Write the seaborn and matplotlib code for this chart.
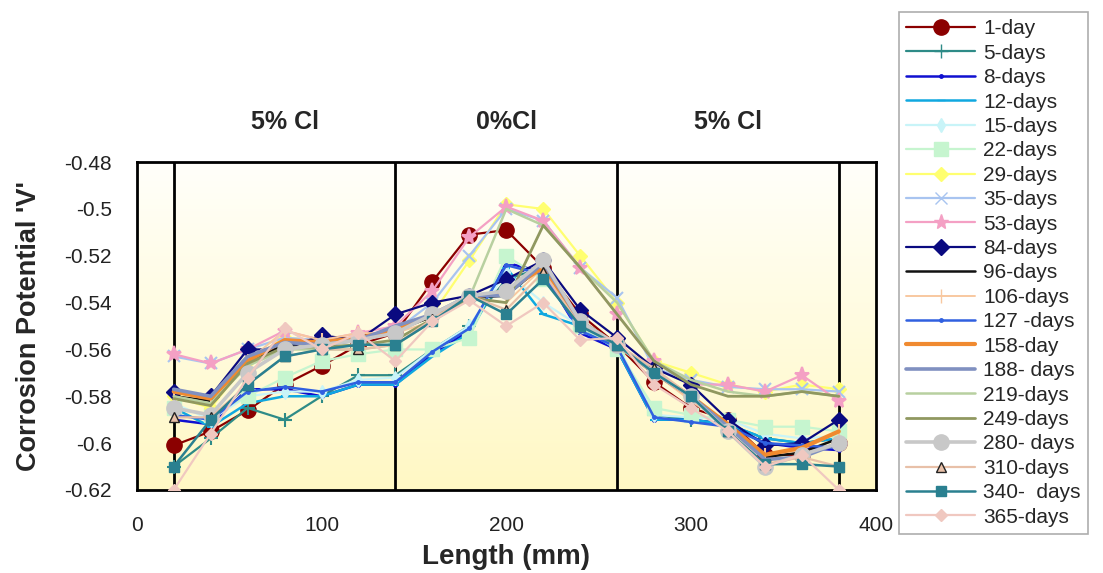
import numpy as np
import pandas as pd
import matplotlib
matplotlib.use('Agg')
import matplotlib.pyplot as plt
import seaborn as sns

# 1. Data
length = [20, 40, 60, 80, 100, 120, 140, 160, 180, 200, 220, 240, 260, 280, 300, 320, 340, 360, 380]

labels = ['1-day', '5-days', '8-days', '12-days', '15-days', '22-days', '29-days', '35-days',
          '53-days', '84-days', '96-days', '106-days', '127 -days', '158-day', '188- days',
          '219-days', '249-days', '280- days', '310-days', '340-  days', '365-days']

day1 = [-0.601, -0.595, -0.586, -0.575, -0.567, -0.558, -0.553, -0.531, -0.511, -0.509, -0.525, -0.545, -0.558, -0.574, -0.585, -0.590, -0.605, -0.605, -0.600]
day5 = [-0.610, -0.598, -0.585, -0.590, -0.580, -0.571, -0.571, -0.560, -0.550, -0.530, -0.525, -0.548, -0.560, -0.588, -0.590, -0.592, -0.598, -0.600, -0.598]
day8 = [-0.590, -0.592, -0.577, -0.577, -0.580, -0.575, -0.575, -0.562, -0.552, -0.523, -0.527, -0.553, -0.560, -0.590, -0.590, -0.592, -0.600, -0.602, -0.603]
day12 = [-0.585, -0.593, -0.583, -0.580, -0.580, -0.575, -0.575, -0.563, -0.553, -0.525, -0.545, -0.550, -0.560, -0.590, -0.590, -0.592, -0.598, -0.600, -0.598]
day15 = [-0.583, -0.590, -0.580, -0.578, -0.578, -0.573, -0.572, -0.560, -0.550, -0.527, -0.540, -0.550, -0.558, -0.588, -0.589, -0.590, -0.596, -0.598, -0.597]
day22 = [-0.585, -0.588, -0.580, -0.572, -0.565, -0.562, -0.560, -0.560, -0.555, -0.520, -0.530, -0.550, -0.560, -0.585, -0.588, -0.590, -0.593, -0.593, -0.595]
day29 = [-0.580, -0.585, -0.565, -0.555, -0.556, -0.556, -0.553, -0.545, -0.522, -0.498, -0.500, -0.520, -0.540, -0.565, -0.570, -0.575, -0.578, -0.575, -0.577]
day35 = [-0.563, -0.566, -0.560, -0.555, -0.556, -0.555, -0.552, -0.540, -0.520, -0.500, -0.505, -0.525, -0.538, -0.568, -0.573, -0.576, -0.577, -0.577, -0.578]
day53 = [-0.562, -0.566, -0.560, -0.552, -0.556, -0.553, -0.550, -0.535, -0.512, -0.499, -0.505, -0.525, -0.545, -0.565, -0.575, -0.575, -0.578, -0.571, -0.582]
day84 = [-0.578, -0.580, -0.560, -0.560, -0.554, -0.556, -0.545, -0.540, -0.537, -0.530, -0.522, -0.543, -0.555, -0.568, -0.575, -0.590, -0.601, -0.600, -0.590]
day96 = [-0.580, -0.582, -0.565, -0.558, -0.557, -0.556, -0.552, -0.546, -0.538, -0.537, -0.524, -0.548, -0.558, -0.570, -0.580, -0.593, -0.606, -0.604, -0.598]
day106 = [-0.580, -0.583, -0.565, -0.552, -0.556, -0.553, -0.553, -0.548, -0.538, -0.540, -0.525, -0.548, -0.558, -0.570, -0.582, -0.593, -0.605, -0.603, -0.595]
day127 = [-0.588, -0.590, -0.578, -0.576, -0.578, -0.574, -0.574, -0.561, -0.551, -0.524, -0.528, -0.552, -0.559, -0.589, -0.591, -0.593, -0.600, -0.601, -0.602]
day158 = [-0.578, -0.581, -0.565, -0.556, -0.557, -0.555, -0.552, -0.545, -0.538, -0.535, -0.525, -0.548, -0.558, -0.570, -0.580, -0.592, -0.605, -0.602, -0.595]
day188 = [-0.577, -0.580, -0.563, -0.557, -0.558, -0.556, -0.550, -0.545, -0.537, -0.537, -0.523, -0.548, -0.558, -0.570, -0.580, -0.593, -0.607, -0.606, -0.600]
day219 = [-0.580, -0.583, -0.567, -0.560, -0.560, -0.560, -0.558, -0.548, -0.538, -0.500, -0.507, -0.525, -0.540, -0.565, -0.573, -0.578, -0.580, -0.578, -0.580]
day249 = [-0.581, -0.584, -0.566, -0.559, -0.559, -0.558, -0.556, -0.547, -0.538, -0.540, -0.507, -0.525, -0.545, -0.565, -0.575, -0.580, -0.580, -0.578, -0.580]
day280 = [-0.585, -0.588, -0.570, -0.560, -0.558, -0.556, -0.553, -0.545, -0.537, -0.535, -0.522, -0.548, -0.558, -0.570, -0.580, -0.595, -0.610, -0.605, -0.600]
day310 = [-0.589, -0.589, -0.575, -0.563, -0.560, -0.560, -0.558, -0.547, -0.537, -0.543, -0.527, -0.550, -0.558, -0.568, -0.580, -0.595, -0.609, -0.606, -0.610]
day340 = [-0.610, -0.590, -0.575, -0.563, -0.560, -0.558, -0.558, -0.548, -0.537, -0.545, -0.530, -0.550, -0.558, -0.570, -0.580, -0.595, -0.609, -0.609, -0.610]
day365 = [-0.620, -0.596, -0.572, -0.551, -0.560, -0.553, -0.565, -0.548, -0.539, -0.550, -0.540, -0.556, -0.555, -0.575, -0.585, -0.595, -0.610, -0.605, -0.620]

series = [day1, day5, day8, day12, day15, day22, day29, day35, day53, day84, day96,
          day106, day127, day158, day188, day219, day249, day280, day310, day340, day365]

region_labels = ['5% Cl', '0%Cl', '5% Cl']
region_x = [80, 200, 320]
boundaries = [20, 140, 260, 380]

# 2. Styles per series: color, marker, marker size, line width, marker edge color
styles = [
    ('#8B0000', 'o', 11, 1.6, '#8B0000'),
    ('#2E8B87', '+', 10, 1.6, '#2E8B87'),
    ('#1010D0', '.', 5, 1.8, '#1010D0'),
    ('#10A8E0', '_', 6, 1.8, '#10A8E0'),
    ('#C8F4F8', 'd', 7, 1.6, '#C8F4F8'),
    ('#C6F5CF', 's', 10, 1.6, '#C6F5CF'),
    ('#FFFF70', 'D', 7, 1.6, '#FFFF70'),
    ('#A8C4F0', 'x', 8, 1.6, '#A8C4F0'),
    ('#F4A0C4', '*', 11, 1.6, '#F4A0C4'),
    ('#0A0A80', 'D', 8, 1.6, '#0A0A80'),
    ('#111111', '', 0, 1.8, '#111111'),
    ('#F8C8A0', '|', 10, 1.4, '#F8C8A0'),
    ('#3060E0', '.', 5, 1.8, '#3060E0'),
    ('#F08A30', '', 0, 3.0, '#F08A30'),
    ('#8090C0', '', 0, 2.6, '#8090C0'),
    ('#B8D0A0', '', 0, 1.8, '#B8D0A0'),
    ('#909860', '', 0, 2.0, '#909860'),
    ('#C8C8C8', 'o', 11, 2.6, '#C8C8C8'),
    ('#E8C0A8', '^', 7, 1.6, '#222222'),
    ('#2A8090', 's', 7, 1.8, '#2A8090'),
    ('#F0C8C0', 'D', 6, 1.6, '#F0C8C0'),
]

# long-form table for seaborn
rows = []
for lab, vals in zip(labels, series):
    for x, v in zip(length, vals):
        rows.append({'Length': x, 'Potential': v, 'Series': lab})
data = pd.DataFrame(rows)

# 3. Figure
sns.set_style('white')
plt.rcParams['font.family'] = ['Liberation Sans', 'DejaVu Sans']

fig = plt.figure(figsize=(11.03, 5.73), dpi=100)
ax = fig.add_axes([0.124, 0.145, 0.670, 0.572])

# yellow to white gradient background
grad = np.linspace(0, 1, 256).reshape(-1, 1)
cmap = matplotlib.colors.LinearSegmentedColormap.from_list('bg', ['#FFF8C4', '#FFFFFA'])
ax.imshow(grad, aspect='auto', cmap=cmap, origin='lower',
          extent=[0, 400, -0.62, -0.48], zorder=0)

handles = []
for lab, (col, mk, ms, lw, mec) in zip(labels, styles):
    sub = data[data['Series'] == lab]
    sns.lineplot(data=sub, x='Length', y='Potential', ax=ax, color=col, linewidth=lw,
                 marker=mk if mk else None, markersize=ms, markeredgecolor=mec,
                 markeredgewidth=1.5 if mk in ('+', 'x', '*', '|', '_') else 1.0,
                 legend=False, zorder=3, estimator=None)
    h, = plt.plot([], [], color=col, lw=lw, marker=mk if mk else None, markersize=ms,
                  markeredgecolor=mec)
    handles.append(h)

for b in boundaries:
    ax.axvline(b, color='black', lw=2, zorder=2)

ax.set_xlim(0, 400)
ax.set_ylim(-0.62, -0.48)
ax.set_xticks([0, 100, 200, 300, 400])
ax.set_yticks([-0.62, -0.6, -0.58, -0.56, -0.54, -0.52, -0.5, -0.48])
ax.set_yticklabels(['-0.62', '-0.6', '-0.58', '-0.56', '-0.54', '-0.52', '-0.5', '-0.48'])
ax.tick_params(axis='y', labelsize=15, length=5, width=1, color='#888888', pad=13,
               labelcolor='#222222')
ax.tick_params(axis='x', labelsize=15, length=0, pad=19, labelcolor='#222222')
for s in ax.spines.values():
    s.set_color('black')
    s.set_linewidth(2)

ax.set_xlabel('Length (mm)', fontsize=20, weight='bold', labelpad=6)
ax.set_ylabel("Corrosion Potential 'V'", fontsize=19.5, weight='bold', labelpad=16)

for rx, rl in zip(region_x, region_labels):
    ax.text(rx, -0.463, rl, fontsize=18, weight='bold', ha='center', va='center')

leg = fig.legend(handles, labels, loc='upper left', bbox_to_anchor=(0.815, 0.979),
                 borderaxespad=0, fontsize=15, frameon=True, fancybox=False,
                 edgecolor='#999999', handlelength=3.3, labelspacing=0.26,
                 borderpad=0.35, handletextpad=0.4)
leg.get_frame().set_linewidth(1.2)

fig.savefig('out.png', dpi=100)
